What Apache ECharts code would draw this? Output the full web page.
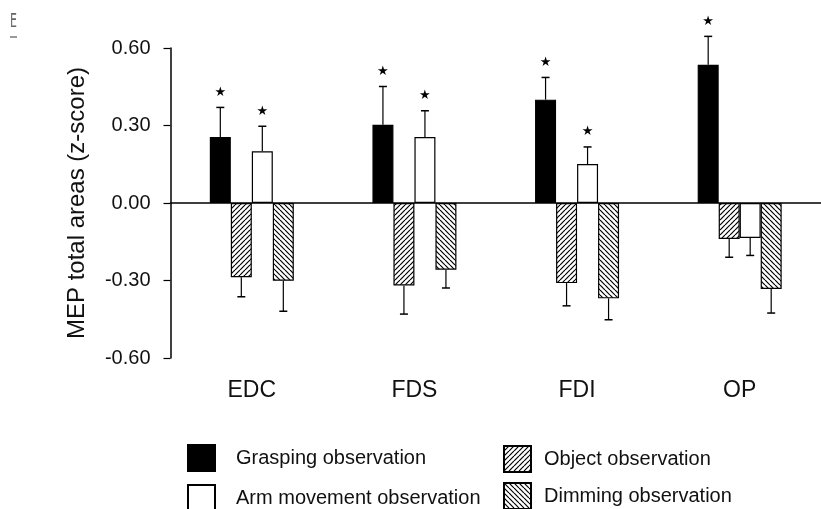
<!DOCTYPE html>
<html>
<head>
<meta charset="utf-8">
<script src="https://cdn.jsdelivr.net/npm/echarts@6/dist/echarts.min.js"></script>
<style>
html,body{margin:0;padding:0;background:#fff;}
#chart{width:821px;height:509px;}
</style>
</head>
<body>
<div id="chart"></div>
<script>
// ---- data ----
var categories = ['EDC', 'FDS', 'FDI', 'OP'];
var yTicks = [-0.60, -0.30, 0.00, 0.30, 0.60];

var graspingMean = [0.255, 0.303, 0.400, 0.535];
var graspingErr  = [0.115, 0.148, 0.086, 0.110];
var graspingSig  = [1, 1, 1, 1];

var objectMean = [-0.287, -0.319, -0.310, -0.139];
var objectErr  = [0.076, 0.111, 0.088, 0.071];
var objectSig  = [0, 0, 0, 0];

var armMean = [0.200, 0.255, 0.151, -0.135];
var armErr  = [0.097, 0.102, 0.066, 0.068];
var armSig  = [1, 1, 1, 0];

var dimmingMean = [-0.301, -0.258, -0.369, -0.333];
var dimmingErr  = [0.118, 0.071, 0.083, 0.093];
var dimmingSig  = [0, 0, 0, 0];

var seriesNames = ['Grasping observation', 'Object observation', 'Arm movement observation', 'Dimming observation'];

// ---- styling helpers ----
var FONT = '"Liberation Sans", Arial, Helvetica, sans-serif';
function hatch(dir) {
  var p = 5;
  var c = document.createElement('canvas');
  c.width = p; c.height = p;
  var g = c.getContext('2d');
  g.fillStyle = '#fff';
  g.fillRect(0, 0, p, p);
  g.strokeStyle = '#000';
  g.lineWidth = 1.2;
  for (var k = -1; k <= 1; k++) {
    var x0 = k * p;
    g.beginPath();
    if (dir === 'up') { g.moveTo(x0, p); g.lineTo(x0 + p, 0); }
    else { g.moveTo(x0, 0); g.lineTo(x0 + p, p); }
    g.stroke();
  }
  return { image: c, repeat: 'repeat' };
}

var fills = ['#000', hatch('up'), '#fff', hatch('down')];
var means = [graspingMean, objectMean, armMean, dimmingMean];
var errs = [graspingErr, objectErr, armErr, dimmingErr];
var sigs = [graspingSig, objectSig, armSig, dimmingSig];
var BAR_W = 21;

var barSeries = seriesNames.map(function (name, s) {
  return {
    name: name,
    type: 'bar',
    xAxisIndex: 0,
    yAxisIndex: 0,
    barWidth: BAR_W,
    barGap: '0%',
    data: means[s],
    itemStyle: { color: fills[s], borderColor: '#000', borderWidth: 1.2 },
    emphasis: { disabled: true },
    animation: false
  };
});

var errData = [];
for (var s = 0; s < 4; s++) {
  for (var i = 0; i < categories.length; i++) {
    errData.push([i, means[s][i], errs[s][i], sigs[s][i], s]);
  }
}

var errSeries = {
  type: 'custom',
  xAxisIndex: 0,
  yAxisIndex: 0,
  z: 5,
  silent: true,
  animation: false,
  data: errData,
  renderItem: function (params, api) {
    var cat = api.value(0), v = api.value(1), e = api.value(2), sig = api.value(3), s = api.value(4);
    var base = api.coord([cat, v]);
    var sign = v >= 0 ? 1 : -1;
    var tip = api.coord([cat, v + sign * e]);
    var xc = base[0] + (s - 1.5) * BAR_W;
    var children = [
      { type: 'line', shape: { x1: xc, y1: base[1], x2: xc, y2: tip[1] }, style: { stroke: '#000', lineWidth: 1.2 } },
      { type: 'line', shape: { x1: xc - 4, y1: tip[1], x2: xc + 4, y2: tip[1] }, style: { stroke: '#000', lineWidth: 1.5 } }
    ];
    if (sig) {
      children.push({
        type: 'text',
        style: { x: xc, y: tip[1] - 15, text: '★', fill: '#000', font: '13px "DejaVu Sans"', align: 'center', verticalAlign: 'middle' }
      });
    }
    return { type: 'group', children: children };
  }
};

function legendItem(name, left, top, gapPad) {
  return {
    data: [name], orient: 'horizontal', left: left, top: top, padding: 0,
    itemWidth: 27, itemHeight: 26, icon: 'rect', selectedMode: false,
    textStyle: { fontSize: 20, fontFamily: FONT, color: '#111', padding: [0, 0, 0, gapPad] }
  };
}

var chart = echarts.init(document.getElementById('chart'), null, { renderer: 'canvas' });
chart.setOption({
  backgroundColor: '#fff',
  animation: false,
  grid: { left: 170.5, top: 48, width: 655, bottom: 151, containLabel: false },
  legend: [
    legendItem('Grasping observation', 187, 444, 16),
    legendItem('Arm movement observation', 187, 484, 16),
    legendItem('Object observation', 503, 445, 8),
    legendItem('Dimming observation', 503, 482, 8)
  ],
  xAxis: [
    {
      type: 'category', data: categories, position: 'bottom',
      axisLine: { show: true, onZero: true, lineStyle: { color: '#000', width: 1.5 } },
      axisTick: { show: false }, axisLabel: { show: false }, splitLine: { show: false }
    },
    {
      type: 'category', data: categories, position: 'bottom',
      axisLine: { show: false, onZero: false }, axisTick: { show: false }, splitLine: { show: false },
      axisLabel: { show: true, margin: 21, fontSize: 23, fontFamily: FONT, color: '#111' }
    }
  ],
  yAxis: {
    type: 'value', min: yTicks[0], max: yTicks[yTicks.length - 1], interval: 0.3,
    name: 'MEP total areas (z-score)', nameLocation: 'middle', nameGap: 81, nameRotate: 90,
    nameTextStyle: { fontSize: 24, fontFamily: FONT, color: '#111' },
    axisLine: { show: true, lineStyle: { color: '#000', width: 1.5 } },
    axisTick: { show: true, inside: false, length: 7, lineStyle: { color: '#000', width: 1.2 } },
    splitLine: { show: false },
    axisLabel: { margin: 20, fontSize: 20, fontFamily: FONT, color: '#111', formatter: function (v) { return v.toFixed(2); } }
  },
  graphic: [
    { type: 'text', left: 10, top: 12, scaleX: 0.55, style: { text: 'E', font: '20px "DejaVu Sans"', fill: '#666' } },
    { type: 'line', shape: { x1: 10, y1: 37, x2: 17, y2: 37 }, style: { stroke: '#555', lineWidth: 1.2 } }
  ],
  series: barSeries.concat([errSeries])
});
</script>
</body>
</html>
